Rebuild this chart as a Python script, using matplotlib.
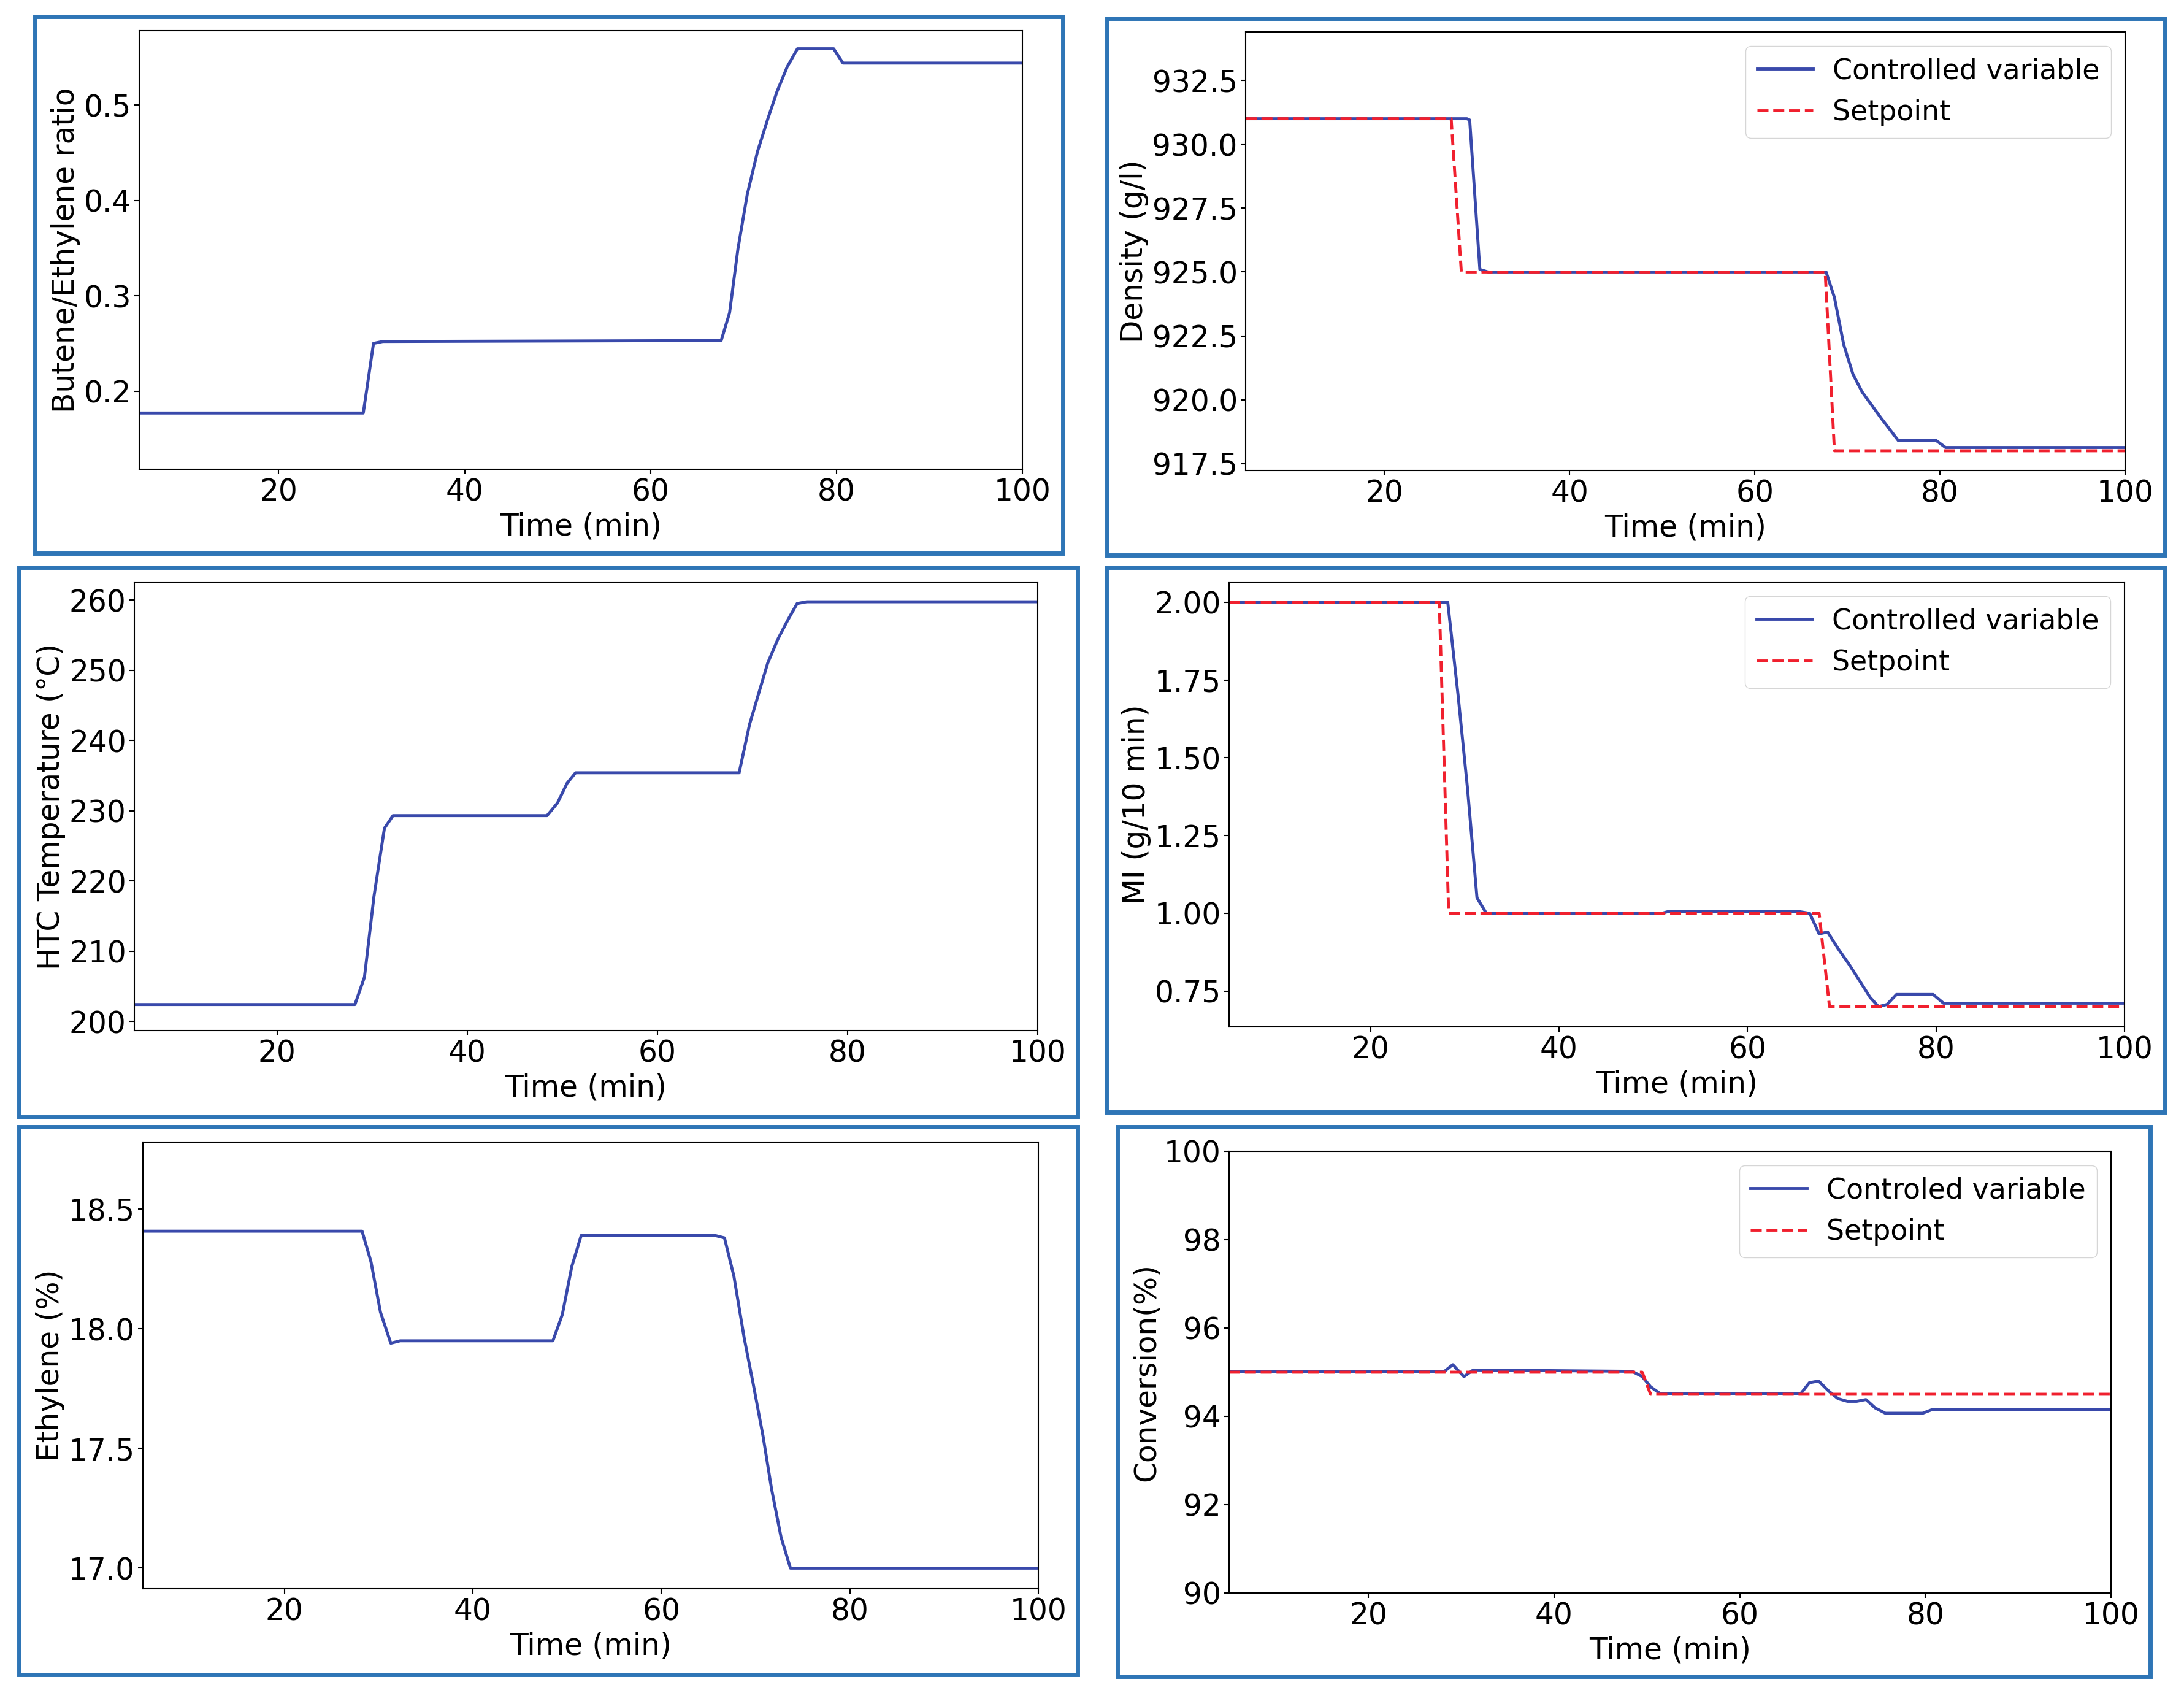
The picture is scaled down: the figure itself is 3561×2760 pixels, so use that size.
import matplotlib
matplotlib.use('Agg')
import matplotlib.pyplot as plt
from matplotlib.patches import Rectangle

# ---- data ----
ratio_t = [5, 29.1, 30.2, 31.2, 67.6, 68.5, 69.4, 70.4, 71.5, 72.6, 73.6, 74.7, 75.8, 79.7, 80.7, 100]
ratio_v = [0.177, 0.177, 0.250, 0.252, 0.253, 0.282, 0.349, 0.406, 0.451, 0.485, 0.514, 0.540, 0.559, 0.559, 0.544, 0.544]

dens_t = [5, 28.9, 29.2, 30.3, 31.2, 67.2, 67.7, 68.6, 69.6, 70.6, 71.6, 73.6, 75.5, 79.6, 80.6, 100]
dens_v = [931.0, 931.0, 930.95, 925.1, 925.0, 925.0, 925.0, 924.0, 922.16, 921.0, 920.3, 919.3, 918.4, 918.4, 918.13, 918.13]
dens_sp_t = [5, 27.2, 28.3, 67.6, 68.6, 100]
dens_sp_v = [931, 931, 925, 925, 918, 918]

htc_t = [5, 28.2, 29.2, 30.2, 31.3, 32.2, 48.4, 49.5, 50.5, 51.4, 68.6, 69.7, 70.7, 71.6, 72.7, 73.7, 74.7, 75.7, 100]
htc_v = [202.4, 202.4, 206.3, 217.8, 227.5, 229.3, 229.3, 231.1, 233.9, 235.4, 235.4, 242.3, 246.9, 251.0, 254.5, 257.1, 259.5, 259.75, 259.75]

mi_t = [5, 28.2, 29.3, 30.3, 31.3, 32.3, 50.9, 51.5, 65.6, 66.6, 67.6, 68.5, 69.6, 70.8, 71.9, 73.0, 73.9, 74.8, 75.8, 79.7, 80.8, 100]
mi_v = [2.0, 2.0, 1.70, 1.40, 1.05, 1.0, 1.0, 1.005, 1.005, 1.0, 0.934, 0.94, 0.887, 0.835, 0.783, 0.73, 0.70, 0.707, 0.739, 0.739, 0.711, 0.711]
mi_sp_t = [5, 27.3, 28.3, 67.6, 68.7, 100]
mi_sp_v = [2.0, 2.0, 1.0, 1.0, 0.70, 0.70]

eth_t = [5, 28.25, 29.2, 30.2, 31.3, 32.3, 48.5, 49.5, 50.5, 51.5, 65.7, 66.7, 67.7, 68.8, 69.7, 70.8, 71.7, 72.7, 73.7, 100]
eth_v = [18.408, 18.408, 18.28, 18.07, 17.94, 17.95, 17.95, 18.06, 18.26, 18.39, 18.39, 18.38, 18.22, 17.96, 17.78, 17.55, 17.33, 17.13, 17.0, 17.0]

conv_t = [5, 28.2, 29.1, 30.3, 31.3, 48.4, 49.5, 50.4, 51.4, 66.6, 67.5, 68.5, 69.6, 70.6, 71.6, 72.6, 73.6, 74.6, 75.7, 79.7, 80.7, 100]
conv_v = [95.02, 95.02, 95.17, 94.9, 95.05, 95.02, 94.9, 94.67, 94.52, 94.52, 94.76, 94.8, 94.57, 94.4, 94.34, 94.34, 94.38, 94.19, 94.07, 94.07, 94.15, 94.15]
conv_sp_t = [5, 49.5, 50.4, 100]
conv_sp_v = [95.0, 95.0, 94.5, 94.5]

mi_ticks = [0.75, 1.00, 1.25, 1.50, 1.75, 2.00]
eth_ticks = [17.0, 17.5, 18.0, 18.5]

W, H = 3561, 2760
BLUE = '#3949ab'
RED = '#f0202e'
FS = 34

plt.rcParams['font.family'] = ['DejaVu Sans']
plt.rcParams['font.size'] = FS

fig = plt.figure(figsize=(W / 100, H / 100), dpi=100)


def frac(x0, y0, x1, y1):
    # pixel box (top-left origin) -> figure fraction rect
    return [x0 / W, 1 - y1 / H, (x1 - x0) / W, (y1 - y0) / H]


def panel(box, ax_px, t, v, ylabel, sp=None, cv_label='Controlled variable',
          ylim=None, yticks=None, yfmt=None):
    fig.patches.append(Rectangle((box[0] / W, 1 - box[3] / H), (box[2] - box[0]) / W,
                                 (box[3] - box[1]) / H, transform=fig.transFigure,
                                 fill=False, edgecolor='#2e75b6', linewidth=5))
    ax = fig.add_axes(frac(*ax_px))
    ax.plot(t, v, color=BLUE, lw=3.5, label=cv_label)
    if sp is not None:
        ax.plot(sp[0], sp[1], '--', color=RED, lw=3.5, label='Setpoint')
        ax.legend(loc='upper right', fontsize=33, labelspacing=0.5, handletextpad=0.7)
    ax.set_xlim(5, 100)
    if ylim is not None:
        ax.set_ylim(*ylim)
    if yticks is not None:
        ax.set_yticks(yticks)
        ax.set_yticklabels([yfmt.format(y) for y in yticks])
    ax.set_xticks([20, 40, 60, 80, 100])
    ax.set_xlabel('Time (min)', fontsize=FS + 1, labelpad=6)
    ax.set_ylabel(ylabel, fontsize=FS + 1, labelpad=4)
    ax.tick_params(labelsize=FS + 1, width=1.5, length=6)
    for s in ax.spines.values():
        s.set_linewidth(1.5)
    return ax


panel((57, 27, 1733, 902), (227, 50, 1667, 765), ratio_t, ratio_v,
      'Butene/Ethylene ratio', ylim=(0.118, 0.578))
panel((1805, 30, 3530, 905), (2031, 52, 3465, 767), dens_t, dens_v,
      'Density (g/l)', sp=(dens_sp_t, dens_sp_v), ylim=(917.23, 934.4))
panel((31, 925, 1757, 1821), (219, 949, 1692, 1680), htc_t, htc_v,
      'HTC Temperature (°C)', ylim=(198.7, 262.55))
panel((1804, 925, 3530, 1813), (2004, 949, 3464, 1674), mi_t, mi_v,
      'MI (g/10 min)', sp=(mi_sp_t, mi_sp_v), yticks=mi_ticks, yfmt='{:.2f}')
panel((31, 1837, 1757, 2730), (233, 1862, 1693, 2590), eth_t, eth_v,
      'Ethylene (%)', ylim=(16.914, 18.78), yticks=eth_ticks, yfmt='{:.1f}')
panel((1822, 1837, 3506, 2733), (2004, 1877, 3442, 2597), conv_t, conv_v,
      'Conversion(%)', sp=(conv_sp_t, conv_sp_v), cv_label='Controled variable',
      ylim=(90, 100))

fig.savefig('out.png', dpi=100)
